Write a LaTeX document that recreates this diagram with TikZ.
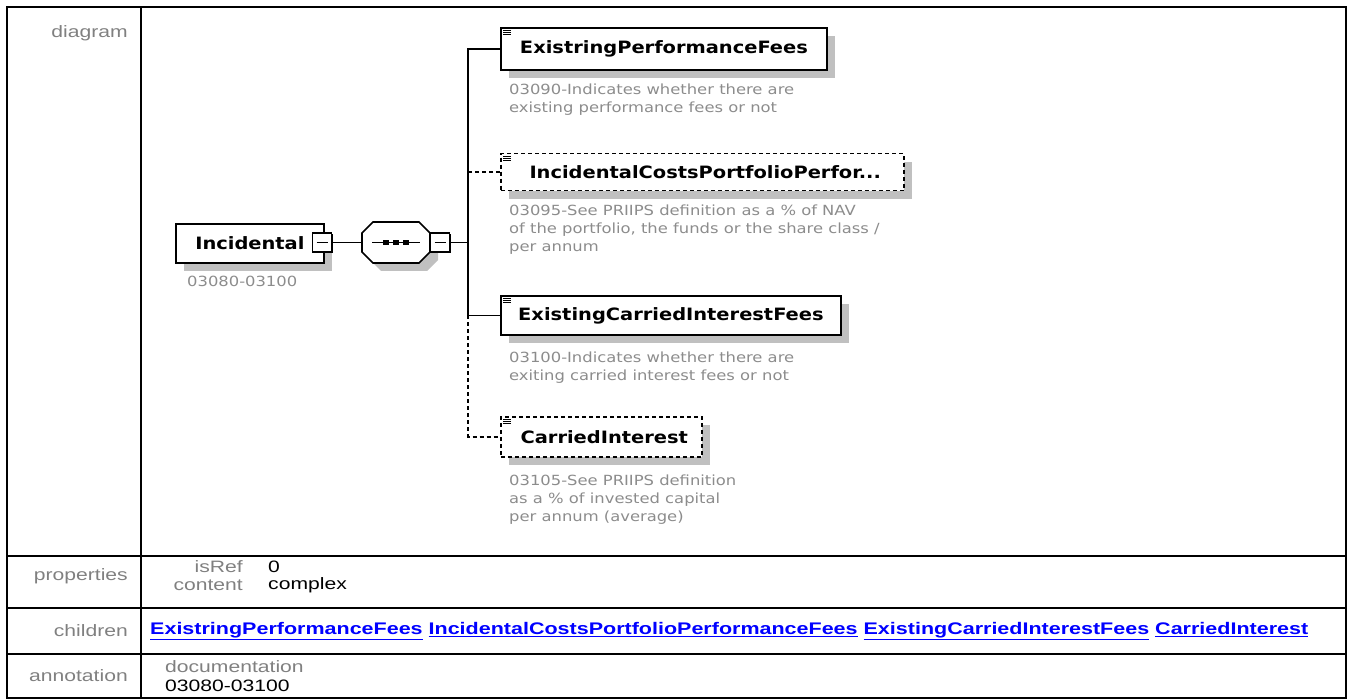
\documentclass[tikz,border=0pt]{standalone}
\usepackage{fontspec}
\setmainfont{Liberation Sans}[FakeStretch=1.28]
\newfontfamily\tahoma{DejaVu Sans Condensed}[FakeStretch=1.27]
\newfontfamily\tahomadoc{DejaVu Sans Condensed}[FakeStretch=1.3]
\usetikzlibrary{shadows}

\definecolor{lblgray}{RGB}{128,128,128}
\definecolor{docgray}{RGB}{140,140,140}
\definecolor{linkblue}{RGB}{0,0,255}
\definecolor{shadegray}{RGB}{192,192,192}

\begin{document}
\begin{tikzpicture}[
    x=1pt, y=-1pt,
    tbl/.style={line width=2pt},
    lbl/.style={anchor=east, inner sep=0pt, text=lblgray, font=\fontsize{16.5}{18}\selectfont},
    val/.style={anchor=west, inner sep=0pt, font=\fontsize{16.5}{18}\selectfont},
    link/.style={anchor=west, inner sep=0pt, text=linkblue, font=\bfseries\fontsize{16.8}{18}\selectfont},
    elem/.style={draw, line width=1.8pt, fill=white, anchor=north west, inner sep=0pt,
        font=\tahoma\bfseries\fontsize{17}{20}\selectfont,
        drop shadow={shadow xshift=8pt, shadow yshift=-8pt, fill=shadegray, opacity=1}},
    opt/.style={elem, line width=1.5pt, dash pattern=on 4pt off 3pt},
    doc/.style={anchor=north west, align=left, inner sep=0pt, text=docgray,
        font=\tahomadoc\fontsize{14}{18}\selectfont},
    minus/.style={draw, line width=1.5pt, fill=white, minimum size=19pt, inner sep=0pt,
        drop shadow={shadow xshift=1.5pt, shadow yshift=-1.5pt, fill=black, opacity=1},
        path picture={\draw[line width=1.3pt] ([xshift=4pt]path picture bounding box.west)
            -- ([xshift=-4pt]path picture bounding box.east);}},
    conn/.style={line width=1.6pt},
    optconn/.style={line width=1.5pt, dash pattern=on 4pt off 3pt}
]
\useasboundingbox (0,0) rectangle (1348,700);

% --- table ---
\draw[tbl] (7,7) rectangle (1346,698);
\draw[tbl] (141,7) -- (141,698);
\foreach \y in {556,608,654} \draw[tbl] (7,\y) -- (1346,\y);

\node[lbl] (lbldiag) at (128,33) {diagram};
\node[lbl] (lblprop) at (128,576) {properties};
\node[lbl] (lblchild) at (128,631) {children};
\node[lbl] (lblann) at (128,676) {annotation};

\node[lbl] (isref) at (243,567) {isRef};
\node[val] (isrefval) at (268,567) {0};
\node[lbl] (content) at (243,585) {content};
\node[val] (contentval) at (268,585) {complex};

\node[link] (children) at (150,631) {\underline{ExistringPerformanceFees} \underline{IncidentalCostsPortfolioPerformanceFees} \underline{ExistingCarriedInterestFees} \underline{CarriedInterest}};

\node[val, text=lblgray] (docu) at (165,667) {documentation};
\node[val] (docuval) at (165,686) {03080-03100};

% --- root element ---
\node[elem, minimum width=148pt, minimum height=39pt] (incid) at (175,223) {Incidental\hspace{5pt}};
\node[minus] (incidmin) at (322,242.5) {};
\node[doc] (inciddoc) at (187,276) {03080-03100};

% --- sequence ---
\node[minimum width=68pt, minimum height=41pt, inner sep=0pt] (seq) at (396,242.5) {};
\fill[shadegray, shift={(seq.center)}, shift={(8,8)}]
    (-23,-20.5) -- (23,-20.5) -- (34,-9.5) -- (34,9.5) -- (23,20.5) -- (-23,20.5) -- (-34,9.5) -- (-34,-9.5) -- cycle;
\filldraw[conn, fill=white, shift={(seq.center)}]
    (-23,-20.5) -- (23,-20.5) -- (34,-9.5) -- (34,9.5) -- (23,20.5) -- (-23,20.5) -- (-34,9.5) -- (-34,-9.5) -- cycle;
\draw[conn] ([xshift=-24pt]seq.center) -- ([xshift=24pt]seq.center);
\foreach \dx in {-10,0,10}
    \fill ([xshift=\dx pt]seq.center) +(-2.6,-2.6) rectangle +(2.6,2.6);
\node[minus] (seqmin) at (440,242.5) {};
\draw[conn] (incidmin.east) -- (seq.west);
\coordinate (bus) at (468,242.5);
\draw[conn] (seqmin.east) -- (bus);

% --- children ---
\node[elem, minimum width=326pt, minimum height=42pt] (epf) at (500,27) {ExistringPerformanceFees};
\node[doc] (epfdoc) at (509,84) {03090-Indicates whether there are\\existing performance fees or not};

\node[opt, minimum width=403pt, minimum height=37pt] (icpp) at (500,153) {\hspace{6pt}IncidentalCostsPortfolioPerfor...\hspace{22pt}};
\node[doc] (icppdoc) at (509,205) {03095-See PRIIPS definition as a \% of NAV\\of the portfolio, the funds or the share class /\\per annum};

\node[elem, minimum width=340pt, minimum height=39pt] (ecif) at (500,295) {ExistingCarriedInterestFees};
\node[doc] (ecifdoc) at (509,352) {03100-Indicates whether there are\\exiting carried interest fees or not};

\node[opt, minimum width=201pt, minimum height=40pt] (ci) at (500,416) {\hspace{6pt}CarriedInterest\hspace{4pt}};
\node[doc] (cidoc) at (509,475) {03105-See PRIIPS definition\\as a \% of invested capital\\per annum (average)};

\foreach \n in {epf,icpp,ecif,ci}
    \foreach \k in {0,1,2}
        \draw[line width=0.9pt] ([xshift=3pt,yshift=-3pt-\k*2.2pt]\n.north west) -- ++(8,0);

% --- connectors ---
\draw[conn] (epf.west) -- ++(-32,0) |- (ecif.west);
\draw[optconn] (icpp.west) -- ++(-32,0);
\draw[optconn] ([xshift=-32pt]ecif.west) |- (ci.west);
\end{tikzpicture}
\end{document}
